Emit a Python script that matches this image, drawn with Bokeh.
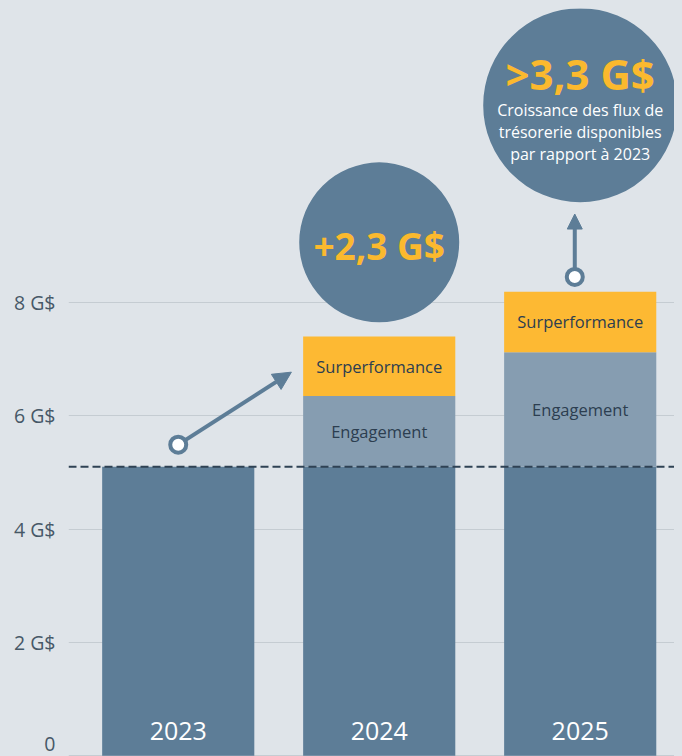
from bokeh.plotting import figure
from bokeh.models import Range1d, Span, Arrow, NormalHead, FixedTicker
from bokeh.core.properties import value
from bokeh.embed import file_html
from bokeh.resources import INLINE

# ---- data ----
years = ["2023", "2024", "2025"]
base_value = [5.1, 5.1, 5.1]
engagement = [0.0, 1.25, 2.02]
surperformance = [0.0, 1.05, 1.07]
y_ticks = [0, 2, 4, 6, 8]
y_tick_labels = ["0", "2 G$", "4 G$", "6 G$", "8 G$"]
reference_level = 5.1
bubble_titles = ["+2,3 G$", ">3,3 G$"]
bubble_caption = "Croissance des flux de\ntrésorerie disponibles\npar rapport à 2023"
segment_names = ["Engagement", "Surperformance"]

# ---- styles ----
BG = "#dfe4e9"
DARK = "#5d7d97"
MID = "#869db1"
YEL = "#fdb933"
TXT = "#2c3e50"
AXT = "#475867"
FONT = value("Open Sans")

x = list(range(len(years)))
eng_top = [b + e for b, e in zip(base_value, engagement)]
sur_top = [t + s for t, s in zip(eng_top, surperformance)]

p = figure(width=674, height=748,
           x_range=Range1d(-0.546, 2.509), y_range=Range1d(-0.0124, 13.187),
           output_backend="svg", toolbar_location=None, x_axis_location=None,
           min_border_left=60, min_border_right=0, min_border_top=0, min_border_bottom=0,
           background_fill_color=BG, border_fill_color=BG, outline_line_color=None)

p.xgrid.visible = False
p.ygrid.ticker = FixedTicker(ticks=y_ticks)
p.ygrid.grid_line_color = "#c5ccd2"
p.ygrid.grid_line_width = 1

ax = p.yaxis[0]
ax.ticker = FixedTicker(ticks=y_ticks)
ax.major_label_overrides = {t: l for t, l in zip(y_ticks, y_tick_labels)}
ax.axis_line_color = None
ax.major_tick_line_color = None
ax.minor_tick_line_color = None
ax.major_tick_out = 0
ax.major_tick_in = 0
ax.minor_tick_out = 0
ax.major_label_standoff = 13
ax.major_label_text_font = "Open Sans"
ax.major_label_text_font_size = "19.5px"
ax.major_label_text_color = AXT

W = 0.757
# bars
p.vbar(x=x, bottom=0, top=base_value, width=W, fill_color=DARK, line_color=None)
idx = [i for i in x if engagement[i] > 0]
p.vbar(x=[x[i] for i in idx], bottom=[base_value[i] for i in idx], top=[eng_top[i] for i in idx],
       width=W, fill_color=MID, line_color=None)
p.vbar(x=[x[i] for i in idx], bottom=[eng_top[i] for i in idx], top=[sur_top[i] for i in idx],
       width=W, fill_color=YEL, line_color=None)

# segment labels
p.text(x=[x[i] for i in idx], y=[(base_value[i] + eng_top[i]) / 2 for i in idx],
       text=[segment_names[0]] * len(idx), text_align="center", text_baseline="middle",
       text_font=FONT, text_font_size="16.5px", text_color=TXT)
p.text(x=[x[i] for i in idx], y=[(eng_top[i] + sur_top[i]) / 2 for i in idx],
       text=[segment_names[1]] * len(idx), text_align="center", text_baseline="middle",
       text_font=FONT, text_font_size="16.5px", text_color=TXT)

# year labels
p.text(x=x, y=[0.446] * 3, text=years, text_align="center", text_baseline="middle",
       text_font=FONT, text_font_size="25px", text_color="white")

# reference dashed line
p.add_layout(Span(location=reference_level, dimension="width", line_color="#2f4254",
                  line_width=2, line_dash="8 4"))

# arrows
a1 = Arrow(x_start=0.0, y_start=5.49, x_end=0.563, y_end=6.77, line_color=DARK, line_width=4,
           end=NormalHead(size=18, fill_color=DARK, line_color=DARK, line_width=1))
a2 = Arrow(x_start=1.973, y_start=8.45, x_end=1.973, y_end=9.56, line_color=DARK, line_width=4,
           end=NormalHead(size=15, fill_color=DARK, line_color=DARK, line_width=1))
p.add_layout(a1)
p.add_layout(a2)
p.scatter(x=[0.0, 1.973], y=[5.49, 8.45], size=16, marker="circle", fill_color="white",
          line_color=DARK, line_width=4, level="overlay")

# bubbles
p.scatter(x=[1, 2], y=[9.06, 11.48], size=[160, 194], marker="circle",
          fill_color=DARK, line_color=None)
p.text(x=[1], y=[9.06], text=[bubble_titles[0]], text_align="center", text_baseline="middle",
       y_offset=3, text_font=FONT, text_font_style="bold", text_font_size="37px", text_color="#fbb92e")
p.text(x=[2], y=[11.48], text=[bubble_titles[1]], text_align="center", text_baseline="middle",
       y_offset=-32, text_font=FONT, text_font_style="bold", text_font_size="42px", text_color="#fbb92e")
p.text(x=[2], y=[11.48], text=[bubble_caption], text_align="center", text_baseline="middle",
       y_offset=27, text_font=FONT, text_font_size="16px", text_color="white",
       text_line_height=1.0)

html = file_html(p, INLINE)
html = html.replace("<body>", '<body style="margin:8px 8px 0 8px; background-color:%s; overflow:hidden;">' % BG)
open("out.html", "w").write(html)
